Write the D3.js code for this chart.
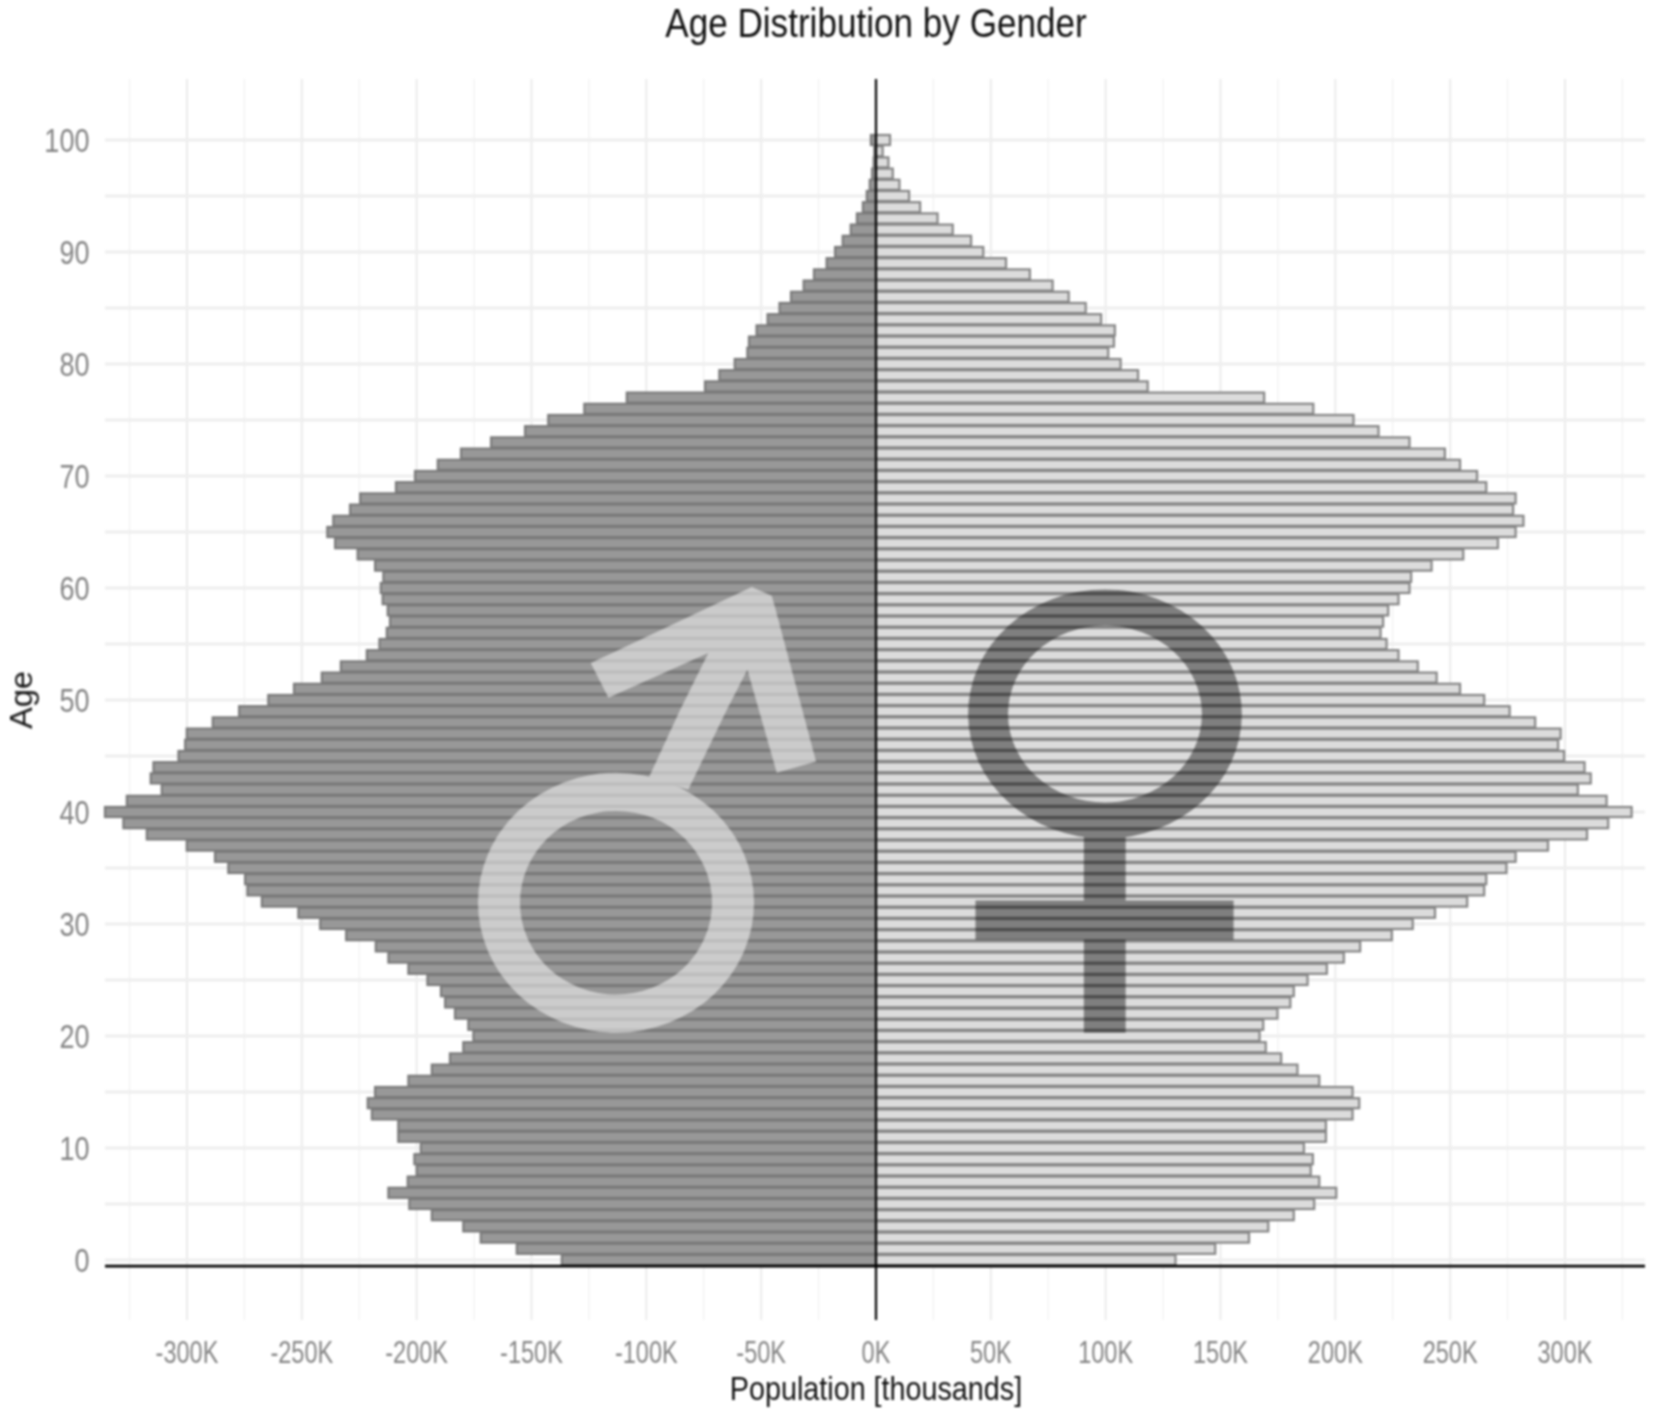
<!DOCTYPE html>
<html><head><meta charset="utf-8">
<script src="https://cdn.jsdelivr.net/npm/d3@7/dist/d3.min.js"></script>
<style>html,body{margin:0;padding:0;background:#fff}svg{display:block}</style>
</head><body><div id="c"></div>
<script>
const ages = d3.range(0, 101);
const female = [130.4,147.7,162.4,170.8,181.9,190.8,200.4,193,189.3,190.2,186.3,195.9,195.9,207.5,210.4,207.5,193,183.5,176.4,169.7,167,168.6,174.8,180.4,181.9,187.9,196.3,203.7,210.8,224.6,233.7,243.4,257.4,264.8,265.7,274.5,278.5,292.6,309.6,318.8,329,318.1,305.6,311.2,308.5,299.6,297,298.1,287,275.9,264.8,254.3,244.1,235.9,227.5,222.3,219.7,220.8,223,227.5,232.3,233,241.9,255.7,270.8,278.5,281.9,277.4,278.5,265.7,261.7,254.3,247.7,232.3,218.8,207.9,190.4,169,118.3,114.1,106.5,101.1,103.6,104,98,91.3,83.9,76.9,67,56.6,46.7,41.4,33.4,26.8,19.2,14.4,10.2,7.3,5.4,2.9,6.1];
const male = [136.8,156.4,172.1,179.7,193.4,203.2,212.3,203.9,200,201,198.2,208,208,219.5,221.3,218.1,203.6,193.4,185.5,179.7,175.3,177.5,183.3,187.6,189.4,195.3,203.6,212.3,217.8,230.7,242,251.5,267.4,273.7,274.7,282,287.8,300.1,317.5,327.7,335.7,326.2,311,315.8,314.6,303.7,300.8,300.1,288.8,277.3,264.6,253.4,241.3,233,221.7,216.2,213,211.6,212.6,214.8,215.6,214.5,218.1,225.7,235.5,238.9,236.3,229,224.6,209,200.7,190.8,180.7,167.6,152.8,142.7,127,108.5,74.4,68.2,61.5,56,55.3,52,47.2,42,37,31.5,27,21.5,17.8,14.5,11,8.3,5.7,4,2.7,1.7,1,0.7,2.2];
const xMajor = d3.range(-300, 301, 50);
const xMinor = d3.range(-325, 326, 50);
const yMajor = d3.range(0, 101, 10);
const yMinor = d3.range(5, 96, 10);
// Symbols, in population / age units
const maleArrow = [[-99.1,43],[-85.3,49.1],[-73,54.2],[-116.5,50.2],[-124.2,53.3],[-54.1,60.1],[-45.4,59.3],[-44,58.3],[-26.1,44.5],[-43.2,43.5],[-56,52.7],[-65,49.1],[-81.7,42]];
const maleRing = {k:-113.2, a:31.9, outerK:60.1, innerK:41.8, outerA:11.6, innerA:8.2};
const femaleRing = {k:99.7, a:48.75, outerK:59.6, innerK:42.2, outerA:11.12, innerA:7.9};
const femaleStem = [[90.5,37.8],[108.7,37.8],[108.7,20.3],[90.5,20.3]];
const femaleBar = [[43.3,32.1],[155.7,32.1],[155.7,28.6],[43.3,28.6]];

const W = 1654, H = 1419;
const x = d3.scaleLinear().domain([-300, 300]).range([187, 1565]);
const y = d3.scaleLinear().domain([0, 100]).range([1260, 140]);
const L = 105, R = 1645, T = 79, B = 1320;
const svg = d3.select('#c').append('svg').attr('width', W).attr('height', H);
const g = svg.append('g').style('filter', 'blur(1.1px)');
g.selectAll('.vmin').data(xMinor).join('line').attr('x1', x).attr('x2', x).attr('y1', T).attr('y2', B).attr('stroke', '#f0f0f0').attr('stroke-width', 1.2);
g.selectAll('.vmaj').data(xMajor).join('line').attr('x1', x).attr('x2', x).attr('y1', T).attr('y2', B).attr('stroke', '#ebebeb').attr('stroke-width', 2);
g.selectAll('.hgrid').data(yMajor.concat(yMinor)).join('line').attr('x1', L).attr('x2', R).attr('y1', y).attr('y2', y).attr('stroke', '#eeeeee').attr('stroke-width', 3);
const bh = y(0) - y(1);
const bars = g.append('g').style('filter', 'blur(0.7px)');
bars.selectAll('.m').data(ages).join('rect').attr('class', 'm').attr('x', a => x(-male[a])).attr('width', a => x(0) - x(-male[a])).attr('y', a => y(a) - bh / 2 + 0.6).attr('height', bh - 1.2).attr('fill', '#989898').attr('stroke', '#7a7a7a').attr('stroke-width', 2.2);
bars.selectAll('.f').data(ages).join('rect').attr('class', 'f').attr('x', x(0)).attr('width', a => x(female[a]) - x(0)).attr('y', a => y(a) - bh / 2 + 0.6).attr('height', bh - 1.2).attr('fill', '#dcdcdc').attr('stroke', '#858585').attr('stroke-width', 2.2);
const dk = d3.scaleLinear().domain([0, 1]).range([0, x(1) - x(0)]);
const da = d3.scaleLinear().domain([0, 1]).range([0, y(0) - y(1)]);
function ringPath(r) {
  const e = (rx, ry) => `M${x(r.k) - rx},${y(r.a)}A${rx},${ry} 0 1 0 ${x(r.k) + rx},${y(r.a)}A${rx},${ry} 0 1 0 ${x(r.k) - rx},${y(r.a)}Z`;
  return e(dk(r.outerK), da(r.outerA)) + e(dk(r.innerK), da(r.innerA));
}
const poly = pts => 'M' + pts.map(p => `${x(p[0])},${y(p[1])}`).join('L') + 'Z';
const fg = g.append('g').attr('opacity', .42);
[ringPath(femaleRing), poly(femaleStem), poly(femaleBar)].forEach(d => fg.append('path').attr('d', d).attr('fill', '#000').attr('fill-rule', 'evenodd'));
const mg = g.append('g').attr('opacity', .5);
[ringPath(maleRing), poly(maleArrow)].forEach(d => mg.append('path').attr('d', d).attr('fill', '#fff').attr('fill-rule', 'evenodd'));
g.append('line').attr('x1', L).attr('x2', R).attr('y1', y(-0.55)).attr('y2', y(-0.55)).attr('stroke', '#000').attr('stroke-width', 2.6);
g.append('line').attr('x1', x(0)).attr('x2', x(0)).attr('y1', T).attr('y2', B).attr('stroke', '#000').attr('stroke-width', 2.2);
function label(tx, ty, s, size, color, sx, anchor='middle', rot=0) {
  g.append('text').attr('transform', `translate(${tx},${ty}) rotate(${rot}) scale(${sx},1)`).attr('text-anchor', anchor)
   .attr('font-family', 'Liberation Sans, Arial, sans-serif').attr('font-size', size).attr('fill', color).text(s);
}
const fmt = v => `${v}K`;
xMajor.forEach(v => label(x(v), 1363, fmt(v), 31, '#848484', .76));
yMajor.forEach(v => label(89.5, y(v) + 12, v, 33, '#848484', .82, 'end'));
label(876, 37, 'Age Distribution by Gender', 40, '#111', .878);
label(876, 1400, 'Population [thousands]', 34, '#111', .845);
label(32, 700, 'Age', 31, '#111', 1.05, 'middle', -90);
</script></body></html>
